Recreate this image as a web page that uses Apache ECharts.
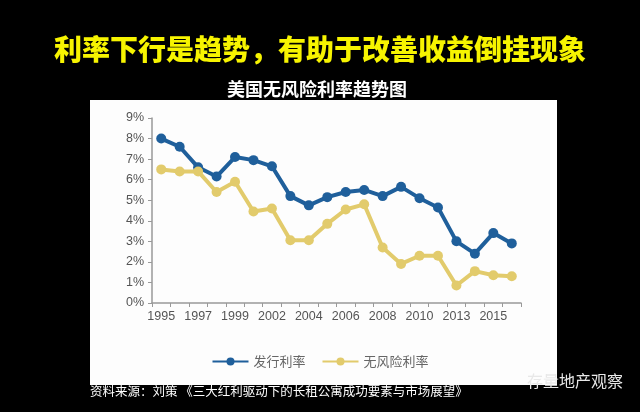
<!DOCTYPE html>
<html>
<head>
<meta charset="utf-8">
<script src="https://cdn.jsdelivr.net/npm/echarts@6/dist/echarts.min.js"></script>
<style>
  html, body { margin: 0; padding: 0; background: #000; }
  #chart { width: 640px; height: 412px; }
</style>
</head>
<body>
<div id="chart"></div>
<script>
// years on the category axis (only every other one is labelled)
const years = ['1995', '1996', '1997', '1998', '1999', '2000', '2002', '2003', '2004', '2005',
  '2006', '2007', '2008', '2009', '2010', '2012', '2013', '2014', '2015', '2016'];
// issue rate, %
const issueRate = [8.0, 7.6, 6.6, 6.15, 7.1, 6.95, 6.65, 5.2, 4.75, 5.15,
  5.4, 5.5, 5.2, 5.65, 5.1, 4.65, 3.0, 2.4, 3.4, 2.9];
// risk-free rate, %
const riskFree = [6.5, 6.4, 6.4, 5.4, 5.9, 4.45, 4.6, 3.05, 3.05, 3.85,
  4.55, 4.8, 2.7, 1.9, 2.3, 2.3, 0.85, 1.55, 1.35, 1.3];
const seriesNames = ['发行利率', '无风险利率'];

const chart = echarts.init(document.getElementById('chart'));

const font = '"Noto Sans CJK SC", sans-serif';

chart.setOption({
  backgroundColor: '#000',
  animation: false,
  title: [
    {
      text: '利率下行是趋势，有助于改善收益倒挂现象',
      left: 'center',
      top: 30,
      textStyle: { color: '#f7f400', fontSize: 28, fontWeight: 900, fontFamily: font }
    },
    {
      text: '美国无风险利率趋势图',
      left: 222,
      top: 75,
      textStyle: { color: '#fff', fontSize: 18, fontWeight: 'bold', fontFamily: font }
    }
  ],
  graphic: [
    { type: 'rect', shape: { x: 90, y: 100, width: 467, height: 285 }, style: { fill: '#fdfdfd' }, z: -10 },
    {
      type: 'text', left: 90, top: 385,
      style: { text: '资料来源：刘策 《三大红利驱动下的长租公寓成功要素与市场展望》', fill: '#fff', fontSize: 12.5, fontFamily: font }
    },
    {
      type: 'text', left: 527, top: 373,
      style: { text: '存量地产观察', fill: '#e8e8e8', fontSize: 16, fontFamily: font }
    }
  ],
  legend: {
    data: seriesNames,
    top: 350,
    left: 'center',
    itemWidth: 36,
    itemHeight: 10,
    itemGap: 16,
    textStyle: { color: '#666', fontSize: 13, fontFamily: font }
  },
  grid: { left: 152, right: 119, top: 118, bottom: 109 },
  xAxis: {
    type: 'category',
    data: years,
    boundaryGap: true,
    axisLine: { lineStyle: { color: '#999', width: 1.5 } },
    axisTick: { show: true, interval: 0, length: 4, lineStyle: { color: '#999' } },
    axisLabel: { interval: 1, color: '#555', fontSize: 12.5, fontFamily: 'Liberation Sans', margin: 7 }
  },
  yAxis: {
    type: 'value',
    min: 0,
    max: 9,
    interval: 1,
    splitLine: { show: false },
    axisLine: { show: true, lineStyle: { color: '#999', width: 1.5 } },
    axisTick: { show: true, length: 4, lineStyle: { color: '#999' } },
    axisLabel: { formatter: '{value}%', color: '#555', fontSize: 12.5, fontFamily: 'Liberation Sans', margin: 8 }
  },
  series: [
    {
      name: seriesNames[0],
      type: 'line',
      data: issueRate,
      symbol: 'circle',
      symbolSize: 10,
      lineStyle: { width: 4, color: '#1f5f9b' },
      itemStyle: { color: '#1f5f9b' }
    },
    {
      name: seriesNames[1],
      type: 'line',
      data: riskFree,
      symbol: 'circle',
      symbolSize: 10,
      lineStyle: { width: 4, color: '#e2cb6c' },
      itemStyle: { color: '#e2cb6c' }
    }
  ]
});
</script>
</body>
</html>
